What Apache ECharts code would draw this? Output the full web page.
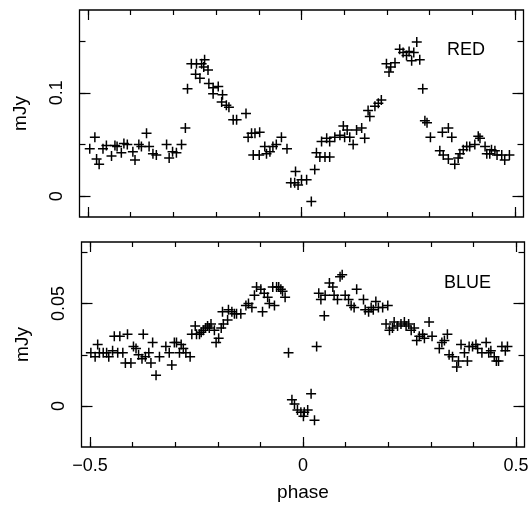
<!DOCTYPE html>
<html>
<head>
<meta charset="utf-8">
<script src="https://cdn.jsdelivr.net/npm/echarts@6/dist/echarts.min.js"></script>
<style>
  html, body { margin: 0; padding: 0; background: #fff; }
  #chart { width: 532px; height: 506px; }
</style>
</head>
<body>
<div id="chart"></div>
<script>
// RED light curve (phase, mJy)
const redPhase = [
  -0.496, -0.484, -0.480, -0.474, -0.465, -0.457, -0.445, -0.437, -0.432, -0.422,
  -0.416, -0.408, -0.395, -0.390, -0.381, -0.375, -0.363, -0.357, -0.348, -0.340,
  -0.316, -0.310, -0.302, -0.293, -0.281, -0.272, -0.267, -0.258, -0.248, -0.246,
  -0.238, -0.234, -0.229, -0.227, -0.219, -0.217, -0.207, -0.207, -0.195, -0.187,
  -0.185, -0.176, -0.170, -0.160, -0.152, -0.130, -0.125, -0.117, -0.113, -0.109,
  -0.099, -0.098, -0.086, -0.082, -0.074, -0.067, -0.059, -0.047, -0.034, -0.025,
  -0.016, -0.014, -0.008, 0.000, 0.012, 0.023, 0.031, 0.035, 0.043, 0.047,
  0.055, 0.059, 0.066, 0.066, 0.078, 0.090, 0.098, 0.101, 0.107, 0.113,
  0.121, 0.129, 0.141, 0.148, 0.156, 0.160, 0.172, 0.180, 0.187, 0.199,
  0.205, 0.209, 0.219, 0.230, 0.238, 0.246, 0.252, 0.258, 0.263, 0.270,
  0.277, 0.284, 0.289, 0.294, 0.302, 0.324, 0.330, 0.332, 0.344, 0.344,
  0.352, 0.359, 0.367, 0.371, 0.379, 0.387, 0.394, 0.406, 0.414, 0.418,
  0.430, 0.434, 0.441, 0.445, 0.453, 0.458, 0.469, 0.476, 0.487
];
const redFlux = [
  0.046, 0.057, 0.036, 0.031, 0.046, 0.049, 0.039, 0.049, 0.048, 0.042,
  0.051, 0.050, 0.043, 0.035, 0.050, 0.048, 0.061, 0.048, 0.041, 0.040,
  0.050, 0.037, 0.043, 0.042, 0.050, 0.066, 0.104, 0.128, 0.118, 0.128,
  0.114, 0.128, 0.125, 0.132, 0.122, 0.109, 0.105, 0.099, 0.106, 0.091,
  0.098, 0.088, 0.086, 0.074, 0.074, 0.080, 0.057, 0.061, 0.040, 0.061,
  0.040, 0.062, 0.048, 0.041, 0.043, 0.048, 0.050, 0.057, 0.046, 0.013,
  0.013, 0.024, 0.011, 0.016, 0.016, -0.005, 0.026, 0.042, 0.038, 0.053,
  0.038, 0.056, 0.038, 0.053, 0.057, 0.059, 0.068, 0.057, 0.064, 0.057,
  0.050, 0.064, 0.066, 0.056, 0.083, 0.077, 0.087, 0.090, 0.093, 0.128,
  0.120, 0.125, 0.129, 0.142, 0.139, 0.136, 0.140, 0.131, 0.139, 0.149,
  0.132, 0.104, 0.073, 0.071, 0.057, 0.044, 0.062, 0.040, 0.066, 0.036,
  0.057, 0.031, 0.037, 0.041, 0.045, 0.048, 0.048, 0.050, 0.058, 0.056,
  0.048, 0.041, 0.041, 0.045, 0.044, 0.040, 0.040, 0.035, 0.040
];

// BLUE light curve (phase, mJy)
const bluePhase = [
  -0.498, -0.488, -0.482, -0.478, -0.469, -0.461, -0.456, -0.447, -0.443, -0.435,
  -0.430, -0.423, -0.417, -0.412, -0.404, -0.398, -0.392, -0.386, -0.378, -0.375,
  -0.370, -0.362, -0.357, -0.353, -0.345, -0.337, -0.322, -0.314, -0.308, -0.302,
  -0.297, -0.290, -0.286, -0.281, -0.275, -0.265, -0.261, -0.253, -0.250, -0.243,
  -0.239, -0.234, -0.229, -0.224, -0.220, -0.216, -0.208, -0.204, -0.198, -0.192,
  -0.189, -0.187, -0.177, -0.175, -0.167, -0.161, -0.156, -0.146, -0.134, -0.128,
  -0.120, -0.114, -0.109, -0.099, -0.095, -0.091, -0.083, -0.079, -0.071, -0.067,
  -0.062, -0.057, -0.052, -0.048, -0.042, -0.034, -0.026, -0.020, -0.013, -0.005,
  0.001, 0.003, 0.011, 0.019, 0.027, 0.032, 0.037, 0.042, 0.050, 0.052,
  0.062, 0.070, 0.073, 0.081, 0.087, 0.092, 0.099, 0.107, 0.113, 0.120,
  0.126, 0.142, 0.146, 0.154, 0.160, 0.165, 0.171, 0.177, 0.187, 0.195,
  0.199, 0.203, 0.210, 0.214, 0.222, 0.230, 0.238, 0.242, 0.248, 0.254,
  0.261, 0.267, 0.273, 0.281, 0.285, 0.296, 0.303, 0.320, 0.326, 0.332,
  0.339, 0.343, 0.351, 0.361, 0.365, 0.371, 0.379, 0.386, 0.390, 0.398,
  0.406, 0.410, 0.420, 0.430, 0.436, 0.441, 0.449, 0.454, 0.459, 0.467,
  0.475, 0.480
];
const blueFlux = [
  0.026, 0.024, 0.030, 0.026, 0.026, 0.026, 0.024, 0.027, 0.034, 0.026,
  0.034, 0.026, 0.021, 0.035, 0.021, 0.029, 0.028, 0.025, 0.023, 0.035,
  0.024, 0.026, 0.021, 0.031, 0.015, 0.024, 0.029, 0.026, 0.020, 0.031,
  0.031, 0.026, 0.030, 0.028, 0.026, 0.024, 0.035, 0.039, 0.035, 0.035,
  0.036, 0.037, 0.038, 0.039, 0.038, 0.040, 0.037, 0.031, 0.033, 0.038,
  0.046, 0.040, 0.042, 0.047, 0.046, 0.045, 0.045, 0.045, 0.049, 0.050,
  0.048, 0.054, 0.058, 0.057, 0.046, 0.055, 0.053, 0.050, 0.058, 0.049,
  0.058, 0.058, 0.057, 0.056, 0.053, 0.026, 0.003, 0.001, -0.002, -0.003,
  -0.005, -0.003, -0.002, 0.006, -0.007, 0.029, 0.055, 0.052, 0.044, 0.054,
  0.060, 0.058, 0.054, 0.052, 0.063, 0.064, 0.054, 0.052, 0.049, 0.048,
  0.057, 0.052, 0.047, 0.046, 0.048, 0.047, 0.051, 0.048, 0.048, 0.040,
  0.049, 0.037, 0.038, 0.041, 0.039, 0.040, 0.041, 0.039, 0.040, 0.037,
  0.038, 0.032, 0.034, 0.035, 0.033, 0.041, 0.034, 0.028, 0.031, 0.032,
  0.035, 0.025, 0.024, 0.019, 0.022, 0.030, 0.026, 0.022, 0.029, 0.029,
  0.030, 0.028, 0.026, 0.031, 0.026, 0.027, 0.024, 0.022, 0.022, 0.029,
  0.027, 0.029
];

// tick positions
const phaseMajor = [-0.5, 0, 0.5];
const phaseMinor = [-0.5, -0.4, -0.3, -0.2, -0.1, 0, 0.1, 0.2, 0.3, 0.4, 0.5];
const redMajor = [0, 0.1];
const redMinor = [0, 0.05, 0.1, 0.15];
const blueMajor = [0, 0.05];
const blueMinor = [0, 0.025, 0.05, 0.075];

const FONT = '"Liberation Sans", Arial, sans-serif';
// "+" marker drawn as filled cross
const PLUS = 'path://M4.25,0H5.75V10H4.25Z M0,4.25H10V5.75H0Z';

function fmt(v) {
  return v < 0 ? '\u2212' + String(-v) : String(v);
}

// 4 x axes per grid: bottom major/minor, top major/minor
function makeX(grid, withLabels) {
  const base = {
    gridIndex: grid, type: 'value', min: -0.52, max: 0.52,
    axisLine: { show: false, onZero: false }, splitLine: { show: false }
  };
  const list = [];
  ['bottom', 'top'].forEach(pos => {
    list.push(Object.assign({}, base, {
      position: pos,
      axisTick: { inside: true, length: 10, customValues: phaseMajor, lineStyle: { color: '#000', width: 1.2 } },
      axisLabel: {
        show: withLabels && pos === 'bottom', customValues: phaseMajor, margin: 10,
        color: '#000', fontSize: 18, fontFamily: FONT, formatter: fmt
      },
      name: withLabels && pos === 'bottom' ? 'phase' : '',
      nameLocation: 'middle', nameGap: 36,
      nameTextStyle: { color: '#000', fontSize: 19, fontFamily: FONT }
    }));
    list.push(Object.assign({}, base, {
      position: pos,
      axisTick: { inside: true, length: 5, customValues: phaseMinor, lineStyle: { color: '#000', width: 1.2 } },
      axisLabel: { show: false }
    }));
  });
  return list;
}

function makeY(grid, min, max, major, minor) {
  const base = {
    gridIndex: grid, type: 'value', min: min, max: max,
    axisLine: { show: false, onZero: false }, splitLine: { show: false }
  };
  const list = [];
  ['left', 'right'].forEach(pos => {
    list.push(Object.assign({}, base, {
      position: pos,
      axisTick: { inside: true, length: 11, customValues: major, lineStyle: { color: '#000', width: 1.2 } },
      axisLabel: {
        show: pos === 'left', customValues: major, rotate: 90, margin: 13,
        color: '#000', fontSize: 18, fontFamily: FONT, formatter: fmt
      },
      name: pos === 'left' ? 'mJy' : '',
      nameLocation: 'middle', nameGap: 49,
      nameTextStyle: { color: '#000', fontSize: 19, fontFamily: FONT }
    }));
    list.push(Object.assign({}, base, {
      position: pos,
      axisTick: { inside: true, length: 6, customValues: minor, lineStyle: { color: '#000', width: 1.2 } },
      axisLabel: { show: false }
    }));
  });
  return list;
}

function pairs(xs, ys) {
  return xs.map((x, i) => [x, ys[i]]);
}

const chart = echarts.init(document.getElementById('chart'));
const option = {
  animation: false,
  backgroundColor: '#fff',
  title: [
    { text: 'RED', left: 447, top: 41, padding: 0,
      textStyle: { color: '#000', fontSize: 18, fontWeight: 'normal', fontFamily: FONT } },
    { text: 'BLUE', left: 444, top: 274, padding: 0,
      textStyle: { color: '#000', fontSize: 18, fontWeight: 'normal', fontFamily: FONT } }
  ],
  grid: [
    { left: 79.5, top: 10, width: 444, height: 207, show: true, borderColor: '#000', borderWidth: 1.3, containLabel: false },
    { left: 81.5, top: 242, width: 443, height: 205, show: true, borderColor: '#000', borderWidth: 1.3, containLabel: false }
  ],
  xAxis: makeX(0, false).concat(makeX(1, true)),
  yAxis: makeY(0, -0.02, 0.18, redMajor, redMinor).concat(makeY(1, -0.02, 0.08, blueMajor, blueMinor)),
  series: [
    {
      name: 'RED', type: 'scatter', xAxisIndex: 0, yAxisIndex: 0,
      symbol: PLUS, symbolSize: 10,
      itemStyle: { color: '#000', opacity: 1 },
      data: pairs(redPhase, redFlux)
    },
    {
      name: 'BLUE', type: 'scatter', xAxisIndex: 4, yAxisIndex: 4,
      symbol: PLUS, symbolSize: 10,
      itemStyle: { color: '#000', opacity: 1 },
      data: pairs(bluePhase, blueFlux)
    }
  ]
};
chart.setOption(option);
</script>
</body>
</html>
